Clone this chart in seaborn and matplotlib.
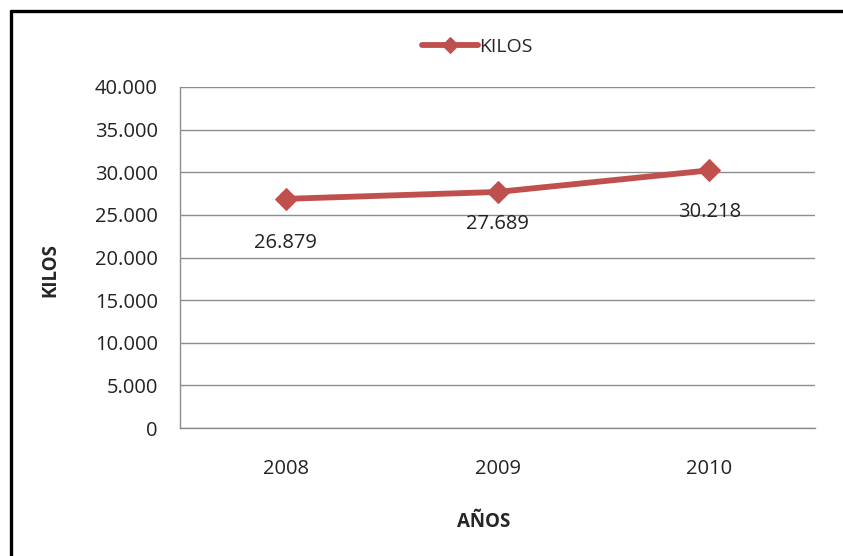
import matplotlib
matplotlib.use("Agg")
import matplotlib.pyplot as plt
import seaborn as sns
import pandas as pd
from matplotlib.lines import Line2D
from matplotlib.ticker import FuncFormatter, MultipleLocator

years = ["2008", "2009", "2010"]
kilos = [26879, 27689, 30218]
value_labels = ["26.879", "27.689", "30.218"]
series_name = "KILOS"
x_title = "AÑOS"
y_title = "KILOS"

sns.set_style("white")
plt.rcParams["font.family"] = ["Open Sans", "DejaVu Sans"]

color = "#C0504D"
fig = plt.figure(figsize=(8.43, 5.56), dpi=100)
ax = fig.add_axes([180 / 843, 1 - 428 / 556, 635 / 843, 341 / 556])

df = pd.DataFrame({"year": years, "kilos": kilos})
sns.lineplot(data=df, x="year", y="kilos", ax=ax, sort=False, color=color,
             linewidth=4.2, marker="D", markersize=11, markeredgecolor=color,
             label=series_name)

ax.set_xlim(-0.5, 2.5)
ax.set_ylim(0, 40000)
ax.yaxis.set_major_locator(MultipleLocator(5000))
ax.yaxis.set_major_formatter(FuncFormatter(lambda v, p: f"{int(v):,}".replace(",", ".")))
ax.grid(axis="y", color="#8c8c8c", linewidth=1)
ax.set_axisbelow(True)
for s in ["top", "right"]:
    ax.spines[s].set_visible(False)
for s in ["left", "bottom"]:
    ax.spines[s].set_color("#8c8c8c")
    ax.spines[s].set_linewidth(1)
fs = 14.5
ax.tick_params(axis="y", length=0, pad=16, labelsize=fs, labelcolor="#222222")
ax.tick_params(axis="x", length=0, pad=22, labelsize=fs, labelcolor="#222222")

offsets = [-44, -32, -42]
for i, (v, lab) in enumerate(zip(kilos, value_labels)):
    ax.annotate(lab, (i, v), xytext=(0, offsets[i] * 0.72), textcoords="offset points",
                ha="center", va="center", fontsize=fs, color="#222222")

ax.set_xlabel(x_title, fontsize=13.5, fontweight="bold")
ax.set_ylabel(y_title, fontsize=13.5, fontweight="bold")
ax.yaxis.set_label_coords((60 - 180) / 635, (428 - 270) / 341)
ax.xaxis.set_label_coords((484 - 180) / 635, -(512 - 428) / 341)

leg = ax.legend(loc="center", bbox_to_anchor=(477 / 843, 1 - 47 / 556),
                bbox_transform=fig.transFigure, frameon=False, fontsize=14,
                handlelength=2.9, handletextpad=0.05, markerscale=0.75)

fig.add_artist(Line2D([11 / 843, 1], [1 - 11 / 556, 1 - 11 / 556], color="black",
                      linewidth=2.4, transform=fig.transFigure))
fig.add_artist(Line2D([11 / 843, 11 / 843], [0, 1 - 11 / 556], color="black",
                      linewidth=2.4, transform=fig.transFigure))

fig.savefig("out.png", dpi=100)
